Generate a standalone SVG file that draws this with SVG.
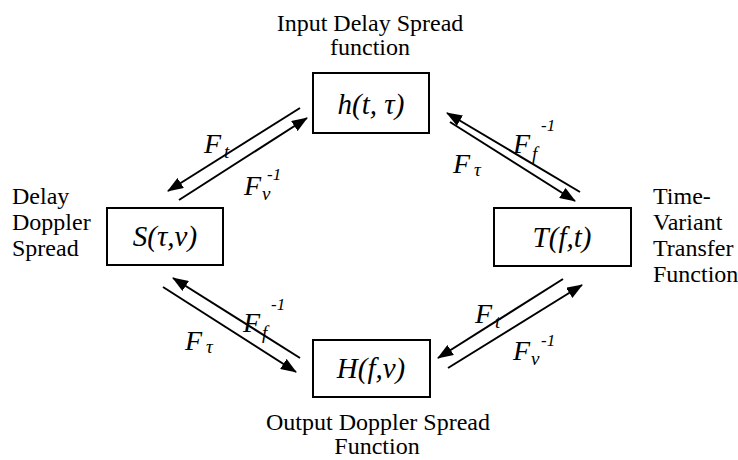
<svg xmlns="http://www.w3.org/2000/svg" width="738" height="460" viewBox="0 0 738 460">
  <style>
    text{font-family:Liberation Serif,Tinos,Nimbus Roman,Nimbus Roman No9 L,FreeSerif,Times New Roman,Times,DejaVu Serif,serif;fill:#000}
    .box{fill:#fff;stroke:#000;stroke-width:2}
    .fn{font-style:italic;font-size:29px;text-anchor:middle}
    .cap{font-size:24px}
    .mid{text-anchor:middle}
    .op{font-style:italic;font-size:28px}
    .sub{font-size:19px}
    .sup{font-size:17px}
    .link{stroke:#000;stroke-width:2;fill:none;marker-end:url(#head)}
  </style>
  <defs>
    <marker id="head" markerUnits="userSpaceOnUse" markerWidth="16" markerHeight="12" refX="15" refY="6" orient="auto" viewBox="0 0 16 12">
      <path d="M0,0 L16,6 L0,12 z" fill="#000"/>
    </marker>
  </defs>

  <!-- transform pairs between the four system functions -->
  <g id="connectors">
    <line class="link" x1="300" y1="108" x2="168" y2="191"/>
    <line class="link" x1="179" y1="200" x2="307" y2="118"/>
    <line class="link" x1="580" y1="192" x2="447" y2="113"/>
    <line class="link" x1="450" y1="122" x2="575" y2="201"/>
    <line class="link" x1="300" y1="358" x2="173" y2="278"/>
    <line class="link" x1="163" y1="287" x2="296" y2="372"/>
    <line class="link" x1="563" y1="279" x2="438" y2="358"/>
    <line class="link" x1="448" y1="368" x2="582" y2="285"/>
  </g>

  <g id="transform-labels">
    <text class="op" x="204" y="153">F<tspan class="sub" x="224" y="158">t</tspan></text>
    <text class="op" x="244" y="195">F<tspan class="sub" x="262" y="200">ν</tspan><tspan class="sup" x="267" y="180">-1</tspan></text>
    <text class="op" x="513" y="153">F<tspan class="sub" x="532" y="160">f</tspan><tspan class="sup" x="541" y="131">-1</tspan></text>
    <text class="op" x="453" y="173">F<tspan class="sub" x="474" y="176">τ</tspan></text>
    <text class="op" x="243" y="332">F<tspan class="sub" x="262" y="339">f</tspan><tspan class="sup" x="271" y="310">-1</tspan></text>
    <text class="op" x="185" y="350">F<tspan class="sub" x="206" y="353">τ</tspan></text>
    <text class="op" x="475" y="323">F<tspan class="sub" x="495" y="328">t</tspan></text>
    <text class="op" x="513" y="360">F<tspan class="sub" x="531" y="365">ν</tspan><tspan class="sup" x="541" y="346">-1</tspan></text>
  </g>

  <g id="node-h">
    <text class="cap mid" x="370" y="31">Input Delay Spread</text>
    <text class="cap mid" x="370" y="55">function</text>
    <rect class="box" x="313" y="73" width="116" height="60"/>
    <text class="fn" x="371" y="114">h(t, τ)</text>
  </g>

  <g id="node-s">
    <text class="cap" x="12" y="204">Delay</text>
    <text class="cap" x="12" y="230">Doppler</text>
    <text class="cap" x="12" y="256">Spread</text>
    <rect class="box" x="107" y="208" width="116" height="57"/>
    <text class="fn" x="165" y="246">S(τ,ν)</text>
  </g>

  <g id="node-t">
    <text class="cap" x="653" y="204">Time-</text>
    <text class="cap" x="653" y="230">Variant</text>
    <text class="cap" x="653" y="256">Transfer</text>
    <text class="cap" x="653" y="282">Function</text>
    <rect class="box" x="494" y="208" width="137" height="58"/>
    <text class="fn" x="562" y="247">T(f,t)</text>
  </g>

  <g id="node-hh">
    <rect class="box" x="313" y="340" width="117" height="57"/>
    <text class="fn" x="371" y="378">H(f,ν)</text>
    <text class="cap mid" x="378" y="430">Output Doppler Spread</text>
    <text class="cap mid" x="377" y="454">Function</text>
  </g>
</svg>
